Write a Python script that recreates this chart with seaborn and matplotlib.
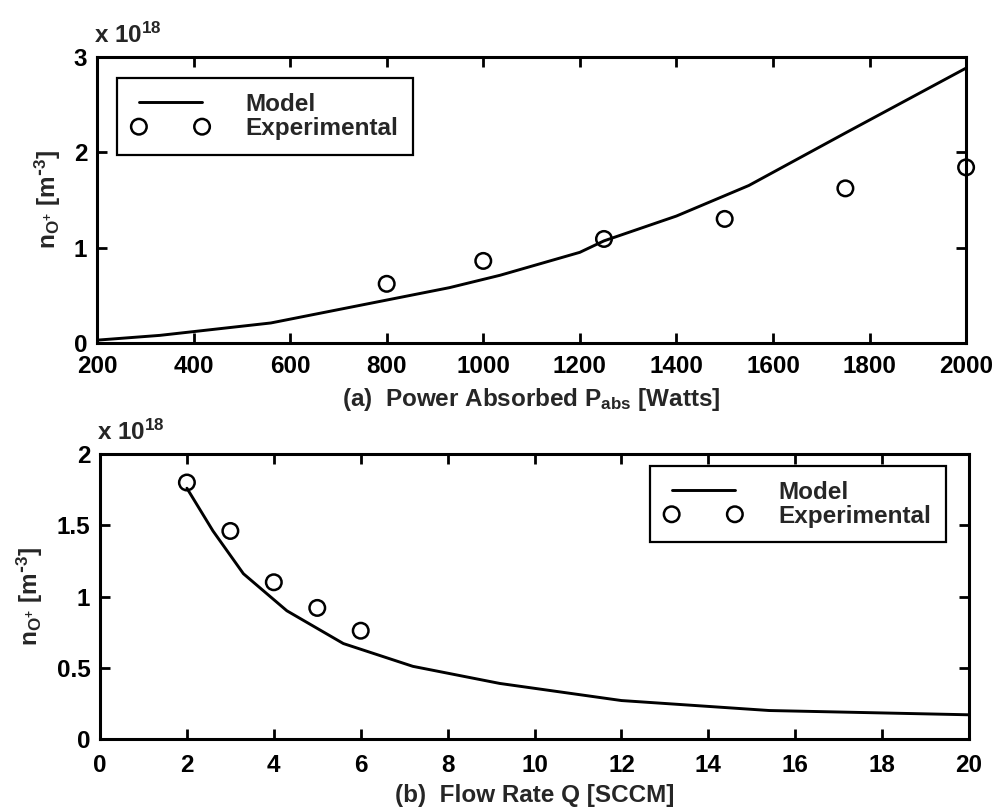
import matplotlib
matplotlib.use('Agg')
import matplotlib.pyplot as plt
import seaborn as sns
import pandas as pd
from matplotlib.ticker import FormatStrFormatter, MultipleLocator

# ---- data (densities in units of 1e18 m^-3) ----
power_model = [200, 330, 560, 800, 930, 1035, 1200, 1250, 1400, 1550, 1750, 2000]
n_model_a = [0.03, 0.08, 0.21, 0.45, 0.58, 0.71, 0.95, 1.07, 1.33, 1.65, 2.20, 2.88]
power_exp = [800, 1000, 1250, 1500, 1750, 2000]
n_exp_a = [0.62, 0.86, 1.09, 1.30, 1.62, 1.84]

flow_model = [2, 2.6, 3.3, 4.3, 5.6, 7.2, 9.2, 12, 15.4, 20]
n_model_b = [1.76, 1.46, 1.16, 0.90, 0.67, 0.51, 0.39, 0.27, 0.20, 0.17]
flow_exp = [2, 3, 4, 5, 6]
n_exp_b = [1.80, 1.46, 1.10, 0.92, 0.76]

xlabel_a = r'(a)  Power Absorbed P$_{abs}$ [Watts]'
xlabel_b = '(b)  Flow Rate Q [SCCM]'
ylabel = r'n$_{O^{+}}$ [m$^{\text{-}3}$]'
offset_label = r'x 10$^{18}$'

sns.set_theme(style='ticks')
plt.rcParams['font.family'] = ['Liberation Sans', 'DejaVu Sans']
plt.rcParams['font.weight'] = 'bold'
plt.rcParams['mathtext.default'] = 'regular'
plt.rcParams['axes.unicode_minus'] = False

FS = 17.5

fig = plt.figure(figsize=(9.97, 8.09), dpi=100)
ax1 = fig.add_axes([0.0973, 0.576, 0.969 - 0.0973, 0.930 - 0.576])
ax2 = fig.add_axes([0.1003, 0.0865, 0.972 - 0.1003, 0.4388 - 0.0865])

df_ma = pd.DataFrame({'x': power_model, 'y': n_model_a})
df_ea = pd.DataFrame({'x': power_exp, 'y': n_exp_a})
df_mb = pd.DataFrame({'x': flow_model, 'y': n_model_b})
df_eb = pd.DataFrame({'x': flow_exp, 'y': n_exp_b})


def draw(ax, dm, de, xlim, ylim, xstep, ystep, xlabel, legend_anchor,
         legend_loc, xpad, xlabelpad):
    sns.lineplot(data=dm, x='x', y='y', ax=ax, color='black', linewidth=2.1,
                 label='Model', sort=False)
    sns.scatterplot(data=de, x='x', y='y', ax=ax, marker='o', s=125,
                    facecolors='none', edgecolor='black', linewidth=1.8,
                    label='Experimental', clip_on=False, zorder=5)
    ax.set_xlim(*xlim)
    ax.set_ylim(*ylim)
    ax.xaxis.set_major_locator(MultipleLocator(xstep))
    ax.yaxis.set_major_locator(MultipleLocator(ystep))
    ax.yaxis.set_major_formatter(FormatStrFormatter('%g'))
    ax.xaxis.set_major_formatter(FormatStrFormatter('%g'))
    ax.tick_params(direction='in', length=7, width=2, top=True, right=True,
                   labelsize=FS, colors='black')
    ax.tick_params(axis='y', pad=7)
    ax.tick_params(axis='x', pad=xpad)
    for s in ax.spines.values():
        s.set_linewidth(2.2)
        s.set_color('black')
        s.set_visible(True)
    ax.set_xlabel(xlabel, fontsize=FS, labelpad=xlabelpad, fontweight='bold')
    ax.set_ylabel(ylabel, fontsize=FS, labelpad=8, fontweight='bold')
    ax.annotate(offset_label, xy=(0, 1), xycoords='axes fraction',
                xytext=(-2, 10), textcoords='offset points', fontsize=FS,
                ha='left', va='baseline', fontweight='bold')
    leg = ax.legend(loc=legend_loc, bbox_to_anchor=legend_anchor,
                    frameon=True, fancybox=False, framealpha=1,
                    edgecolor='black', handlelength=3.2, handletextpad=1.5,
                    labelspacing=0.05, borderpad=0.6, numpoints=2,
                    scatterpoints=2, scatteryoffsets=[0.5], borderaxespad=0,
                    prop={'size': FS, 'weight': 'bold'})
    leg.get_frame().set_linewidth(1.6)


draw(ax1, df_ma, df_ea, (200, 2000), (0, 3), 200, 1, xlabel_a,
     (0.023, 0.924), 'upper left', 8.5, 6)
draw(ax2, df_mb, df_eb, (0, 20), (0, 2), 2, 0.5, xlabel_b,
     (0.9735, 0.958), 'upper right', 11, 5)

fig.savefig('out.png', dpi=100)
